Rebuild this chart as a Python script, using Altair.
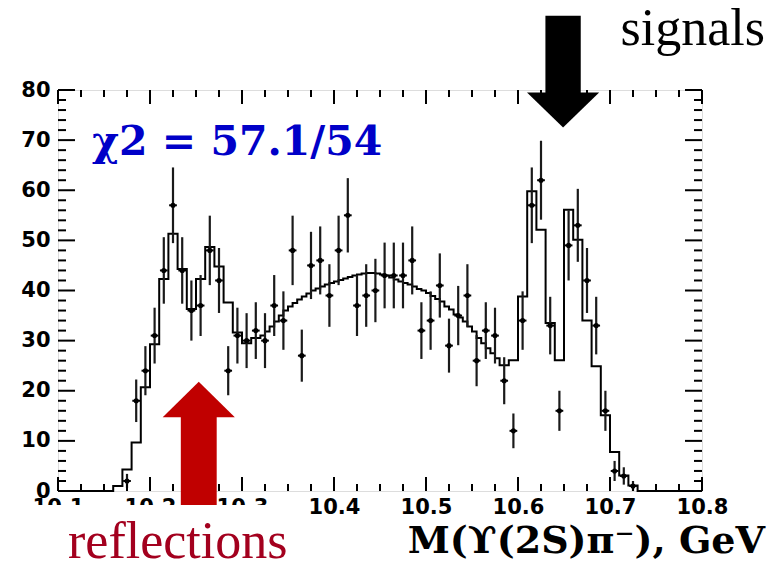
import altair as alt
import pandas as pd
import numpy as np

# ---------------- data ----------------
mass = [10.175, 10.185, 10.195, 10.205, 10.215, 10.225, 10.235, 10.245, 10.255, 10.265,
        10.275, 10.285, 10.295, 10.305, 10.315, 10.325, 10.335, 10.345, 10.355, 10.365,
        10.375, 10.385, 10.395, 10.405, 10.415, 10.425, 10.435, 10.445, 10.455, 10.465,
        10.475, 10.485, 10.495, 10.505, 10.515, 10.525, 10.535, 10.545, 10.555, 10.565,
        10.575, 10.585, 10.595, 10.605, 10.615, 10.625, 10.635, 10.645, 10.655, 10.665,
        10.675, 10.685, 10.695, 10.705, 10.715, 10.725]
counts = [2, 18, 24, 31, 44, 57, 44, 36, 37, 48,
          42, 24, 31, 30, 32, 30, 37, 34, 48, 27,
          45, 46, 39, 48, 55, 37, 39, 40, 43, 43,
          43, 46, 32, 34, 41, 29, 35, 39, 26, 32,
          31, 22, 12, 34, 57, 62, 33, 16, 49, 53,
          42, 33, 16, 4, 3, 1]

# fit histogram: 0.01 GeV bins 10.16-10.32, 0.005 GeV bins 10.32-10.58, 0.01 GeV bins 10.58-10.73
fit_low = [1.0, 4.3, 9.7, 20.7, 29.3, 42.3, 51.3, 44.3, 36.3, 42.3, 48.7, 44.8, 37.6, 31.6, 29.5, 30.5]
fit_mid = [31.0, 31.8, 32.8, 33.8, 35.0, 36.0, 36.8, 37.5, 38.2, 38.8, 39.4, 40.0, 40.4,
           40.8, 41.2, 41.5, 41.8, 42.1, 42.4, 42.7, 43.0, 43.2, 43.4, 43.5, 43.5, 43.4,
           43.2, 43.0, 42.6, 42.2, 41.8, 41.5, 41.2, 40.8, 40.3, 40.0, 39.5, 38.9, 38.3,
           37.8, 36.8, 36.2, 35.2, 34.6, 33.8, 32.8, 31.8, 30.5, 29.5, 28.5, 27.5, 26.5]
fit_high = [25.1, 26.1, 38.8, 59.8, 52.1, 33.5, 26.1, 56.1, 50.1, 34.0, 24.9, 15.1, 7.8, 3.1, 1.1]

x_ticks = [10.1, 10.2, 10.3, 10.4, 10.5, 10.6, 10.7, 10.8]
y_ticks = [0, 10, 20, 30, 40, 50, 60, 70, 80]

# ---------------- tables ----------------
pts = pd.DataFrame({"m": mass, "n": counts})

edges = ([10.10] + [round(10.16 + 0.01 * i, 3) for i in range(16)]
         + [round(10.32 + 0.005 * i, 3) for i in range(52)]
         + [round(10.58 + 0.01 * i, 3) for i in range(15)] + [10.73, 10.80])
vals = [0.0] + fit_low + fit_mid + fit_high + [0.0, 0.0]
fit = pd.DataFrame({"m": edges, "f": vals})

W, H = 644, 401
xs = alt.Scale(domain=[10.1, 10.8], nice=False, zero=False)
ys = alt.Scale(domain=[0, 80], nice=False, zero=False)

x_axis = alt.Axis(values=x_ticks, format=".1f", ticks=False, domain=False, grid=False, title=None,
                  labelFont="DejaVu Sans", labelFontWeight="bold", labelFontSize=21, labelPadding=5,
                  labelColor="black", labelFlush=False, labelOverlap=False)
y_axis = alt.Axis(values=y_ticks, ticks=False, domain=False, grid=False, title=None,
                  labelFont="DejaVu Sans", labelFontWeight="bold", labelFontSize=21, labelPadding=8,
                  labelColor="black", labelFlush=False, labelOverlap=False)

X = lambda f: alt.X(f, type="quantitative", scale=xs, axis=x_axis)
Y = lambda f: alt.Y(f, type="quantitative", scale=ys, axis=y_axis)

# inward ticks
ymaj = pd.DataFrame({"v": y_ticks})
ymin = pd.DataFrame({"v": [v for v in range(0, 81, 2) if v % 10 != 0]})
xmaj = pd.DataFrame({"v": x_ticks})
xmin = pd.DataFrame({"v": [round(10.1 + 0.025 * i, 3) for i in range(29) if i % 4 != 0]})

tick_layers = []
for df, L in [(ymaj, 17), (ymin, 8)]:
    tick_layers.append(alt.Chart(df).mark_rule(color="black", strokeWidth=2).encode(
        y=Y("v"), x=alt.value(0), x2=alt.value(L)))
    tick_layers.append(alt.Chart(df).mark_rule(color="black", strokeWidth=2).encode(
        y=Y("v"), x=alt.value(W - L), x2=alt.value(W)))
for df, L in [(xmaj, 14), (xmin, 7)]:
    tick_layers.append(alt.Chart(df).mark_rule(color="black", strokeWidth=2).encode(
        x=X("v"), y=alt.value(H), y2=alt.value(H - L)))
    tick_layers.append(alt.Chart(df).mark_rule(color="black", strokeWidth=2).encode(
        x=X("v"), y=alt.value(0), y2=alt.value(L)))

fit_line = alt.Chart(fit).mark_line(interpolate="step-after", color="black", strokeWidth=2).encode(
    x=X("m"), y=Y("f"))

pbase = alt.Chart(pts).transform_calculate(
    lo="datum.n - sqrt(datum.n)", hi="datum.n + sqrt(datum.n)",
    ml="datum.m - 0.0042", mr="datum.m + 0.0042")
ebars = pbase.mark_rule(color="#1a1a1a", strokeWidth=2.2).encode(x=X("m"), y=Y("lo"), y2="hi:Q")
hbars = pbase.mark_rule(color="black", strokeWidth=2).encode(x=X("ml"), x2="mr:Q", y=Y("n"))
dots = pbase.mark_circle(color="black", size=26, opacity=1).encode(x=X("m"), y=Y("n"))

# arrows (in data coordinates)
red_c, red_half_shaft, red_half_head = 10.253, 0.0195, 0.0392
red_shaft = alt.Chart(pd.DataFrame({"a": [red_c - red_half_shaft], "b": [red_c + red_half_shaft],
                                    "y1": [-3.0], "y2": [14.8]})).mark_rect(color="#c00000").encode(
    x=X("a"), x2="b:Q", y=Y("y1"), y2="y2:Q")
red_head = alt.Chart(pd.DataFrame({"x": [red_c - red_half_head, red_c, red_c + red_half_head],
                                   "top": [14.7, 21.8, 14.7], "base": [14.7, 14.7, 14.7]})).mark_area(
    color="#c00000", opacity=1).encode(x=X("x"), y=Y("top"), y2="base:Q")

blk_c = 10.649
blk_shaft = alt.Chart(pd.DataFrame({"a": [blk_c - 0.0192], "b": [blk_c + 0.0192],
                                    "y1": [79.2], "y2": [94.8]})).mark_rect(color="black").encode(
    x=X("a"), x2="b:Q", y=Y("y1"), y2="y2:Q")
blk_head = alt.Chart(pd.DataFrame({"x": [blk_c - 0.0392, blk_c, blk_c + 0.0392],
                                   "top": [79.5, 79.5, 79.5], "bot": [79.5, 72.5, 79.5]})).mark_area(
    color="black", opacity=1).encode(x=X("x"), y=Y("top"), y2="bot:Q")

one = pd.DataFrame({"k": [0]})
cover = alt.Chart(one).mark_rect(color="white").encode(
    x=alt.value(-58), x2=alt.value(245), y=alt.value(415), y2=alt.value(480))

def label(text, x, y, size, font, weight="normal", color="black", align="left"):
    return alt.Chart(one).mark_text(text=text, font=font, fontSize=size, fontWeight=weight,
                                    color=color, align=align, baseline="alphabetic").encode(
        x=alt.value(x), y=alt.value(y))

chi = label("χ2 = 57.1/54", 34, 65, 41, "DejaVu Serif", "bold", "#0000c8")
xtitle = label("M(ϒ(2S)π⁻), GeV", 707, 463, 38, "DejaVu Serif", "bold", "black", "right")
sig = label("signals", 707, -45, 52, "Liberation Serif", "normal", "black", "right")
refl = label("reflections", 10, 468, 52, "Liberation Serif", "normal", "#a3001e")

chart = alt.layer(
    fit_line, ebars, hbars, dots, *tick_layers,
    red_shaft, red_head, blk_shaft, blk_head, cover, chi, xtitle, sig, refl
).properties(
    width=W, height=H,
    padding={"left": 58, "top": 90, "right": 76, "bottom": 74},
    autosize=alt.AutoSizeParams(type="none"),
).configure_view(stroke="black", strokeWidth=2).configure(background="white")

chart.save("out.html", embed_options={"renderer": "svg", "actions": False})
